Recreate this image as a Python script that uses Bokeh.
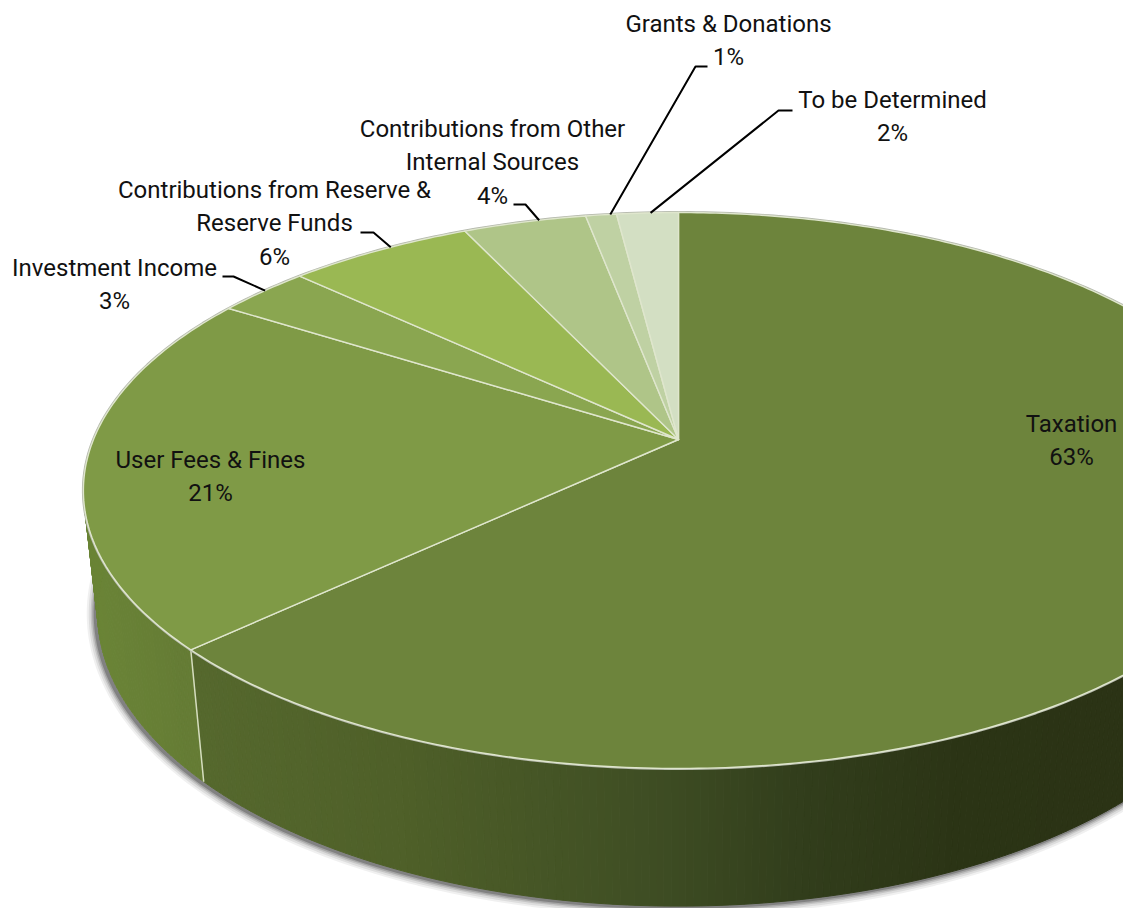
import numpy as np
from bokeh.plotting import figure
from bokeh.embed import file_html
from bokeh.resources import INLINE
from bokeh.core.properties import value

# Revenue shares, clockwise from twelve o'clock
categories = ["Taxation", "User Fees & Fines", "Investment Income",
              "Contributions from Reserve & Reserve Funds",
              "Contributions from Other Internal Sources",
              "Grants & Donations", "To be Determined"]
shares = [63, 21, 3, 6, 4, 1, 2]
label_lines = [["Taxation", "63%"],
               ["User Fees & Fines", "21%"],
               ["Investment Income", "3%"],
               ["Contributions from Reserve &", "Reserve Funds", "6%"],
               ["Contributions from Other", "Internal Sources", "4%"],
               ["Grants & Donations", "1%"],
               ["To be Determined", "2%"]]

# Slice fills
face_colors = ["#6d843c", "#7f9a46", "#8aa650", "#9ab853", "#afc588", "#bfd1a3", "#d3dfc3"]

# Label layout: centre x and first line's centre y, line pitch
label_anchor = [(1071, 423), (210, 459), (114, 267), (274, 189), (492, 128), (728, 23), (892, 99)]
LINE_PITCH = 33.5

# Leader lines: start, elbow, and where along the slice's rim they land
leader_paths = {2: [(222, 276), (233, 276)], 3: [(360, 232), (373, 232)], 4: [(513, 204), (525, 204)],
                5: [(707, 66), (695, 66)], 6: [(792, 110), (778, 110)]}
leader_rim = {2: 0.53, 3: 0.57, 4: 0.62, 5: 0.8, 6: 0.55}

# Perspective camera for the disc
CX, CY = 678.0, 439.0
AX, AY = 585.0, 268.6
TILT = 0.1835
DEPTH_Y, DEPTH_W = 123.5, 0.0238


def project(pct, z=0.0):
    """Screen position of a rim point at pct percent clockwise from the top; z=1 is the lower disc."""
    a = np.asarray(pct, dtype=float) * 2 * np.pi / 100
    u, v = np.sin(a), -np.cos(a)
    w = 1 - TILT * v + DEPTH_W * z
    return CX + AX * u / w, CY + (AY * v + DEPTH_Y * z) / w


def ramp(x, stops):
    xs = [s[0] for s in stops]
    rgb = [int(np.interp(x, xs, [int(s[1][i:i + 2], 16) for s in stops])) for i in (1, 3, 5)]
    return "#%02x%02x%02x" % tuple(rgb)


tax_wall = [(190, "#56692e"), (400, "#4f6029"), (650, "#3f4e24"), (800, "#323e1c"), (950, "#2c3516"), (1123, "#2b3315")]
fees_wall = [(90, "#6b8537"), (190, "#657c35")]

p = figure(width=1123, height=908, x_range=(0, 1123), y_range=(908, 0),
           output_backend="svg", toolbar_location=None, min_border=0)
p.axis.visible = False
p.grid.visible = False
p.outline_line_color = None
p.background_fill_color = "#ffffff"
p.border_fill_color = "#ffffff"

edges = np.concatenate([[0], np.cumsum(shares)]).astype(float)

# Soft shadow under the lower disc
ring = np.linspace(0, 100, 361)
lx, ly = project(ring, 1.0)
for width, alpha in zip((18, 14, 10, 7, 4), (0.06, 0.08, 0.11, 0.15, 0.22)):
    p.patch(lx - 2, ly + 1, fill_color=None, line_color="#000000", line_alpha=alpha, line_width=width)

# Side wall, built from narrow strips so its shade can follow the screen x
sx, sy, sc = [], [], []
for start, stop, stops in ((18.0, edges[1], tax_wall), (edges[1], 80.0, fees_wall)):
    steps = np.linspace(start, stop, int((stop - start) * 6) + 1)
    for a, b in zip(steps[:-1], steps[1:]):
        tx0, ty0 = project(a)
        tx1, ty1 = project(b)
        bx0, by0 = project(a, 1.0)
        bx1, by1 = project(b, 1.0)
        sx.append([tx0, tx1, bx1, bx0])
        sy.append([ty0, ty1, by1, by0])
        sc.append(ramp((tx0 + tx1 + bx0 + bx1) / 4, stops))
p.patches(sx, sy, fill_color=sc, line_color=sc, line_width=1)

# Seam between the two visible wall segments
seam_top = project(edges[1])
seam_bottom = project(edges[1], 1.0)
p.line([seam_top[0], seam_bottom[0]], [seam_top[1], seam_bottom[1]], line_color="#d5ddbf", line_width=1.5)

# Grey halo along the rim of the top face
rx, ry = project(ring)
p.patch(rx, ry, fill_color=None, line_color="#b4b8ac", line_width=3)

# Top face slices
for i, share in enumerate(shares):
    arc = np.linspace(edges[i], edges[i + 1], max(int(share * 5), 4))
    ax_, ay_ = project(arc)
    p.patch(np.r_[CX, ax_], np.r_[CY, ay_], fill_color=face_colors[i],
            line_color="#dfe6cd", line_width=1.4, line_join="round")

# Leaders
for i, path in leader_paths.items():
    ex, ey = project(edges[i] + shares[i] * leader_rim[i])
    p.line([path[0][0], path[1][0], float(ex)], [path[0][1], path[1][1], float(ey)],
           line_color="#000000", line_width=2)

# Labels
tx, ty, tt = [], [], []
for lines, (ax_, ay_) in zip(label_lines, label_anchor):
    for k, line in enumerate(lines):
        tx.append(ax_)
        ty.append(ay_ + k * LINE_PITCH)
        tt.append(line)
p.text(tx, ty, text=tt, text_font=value("Roboto"), text_font_size="24px",
       text_align="center", text_baseline="middle", text_color="#111111")

open("out.html", "w").write(file_html(p, INLINE))
